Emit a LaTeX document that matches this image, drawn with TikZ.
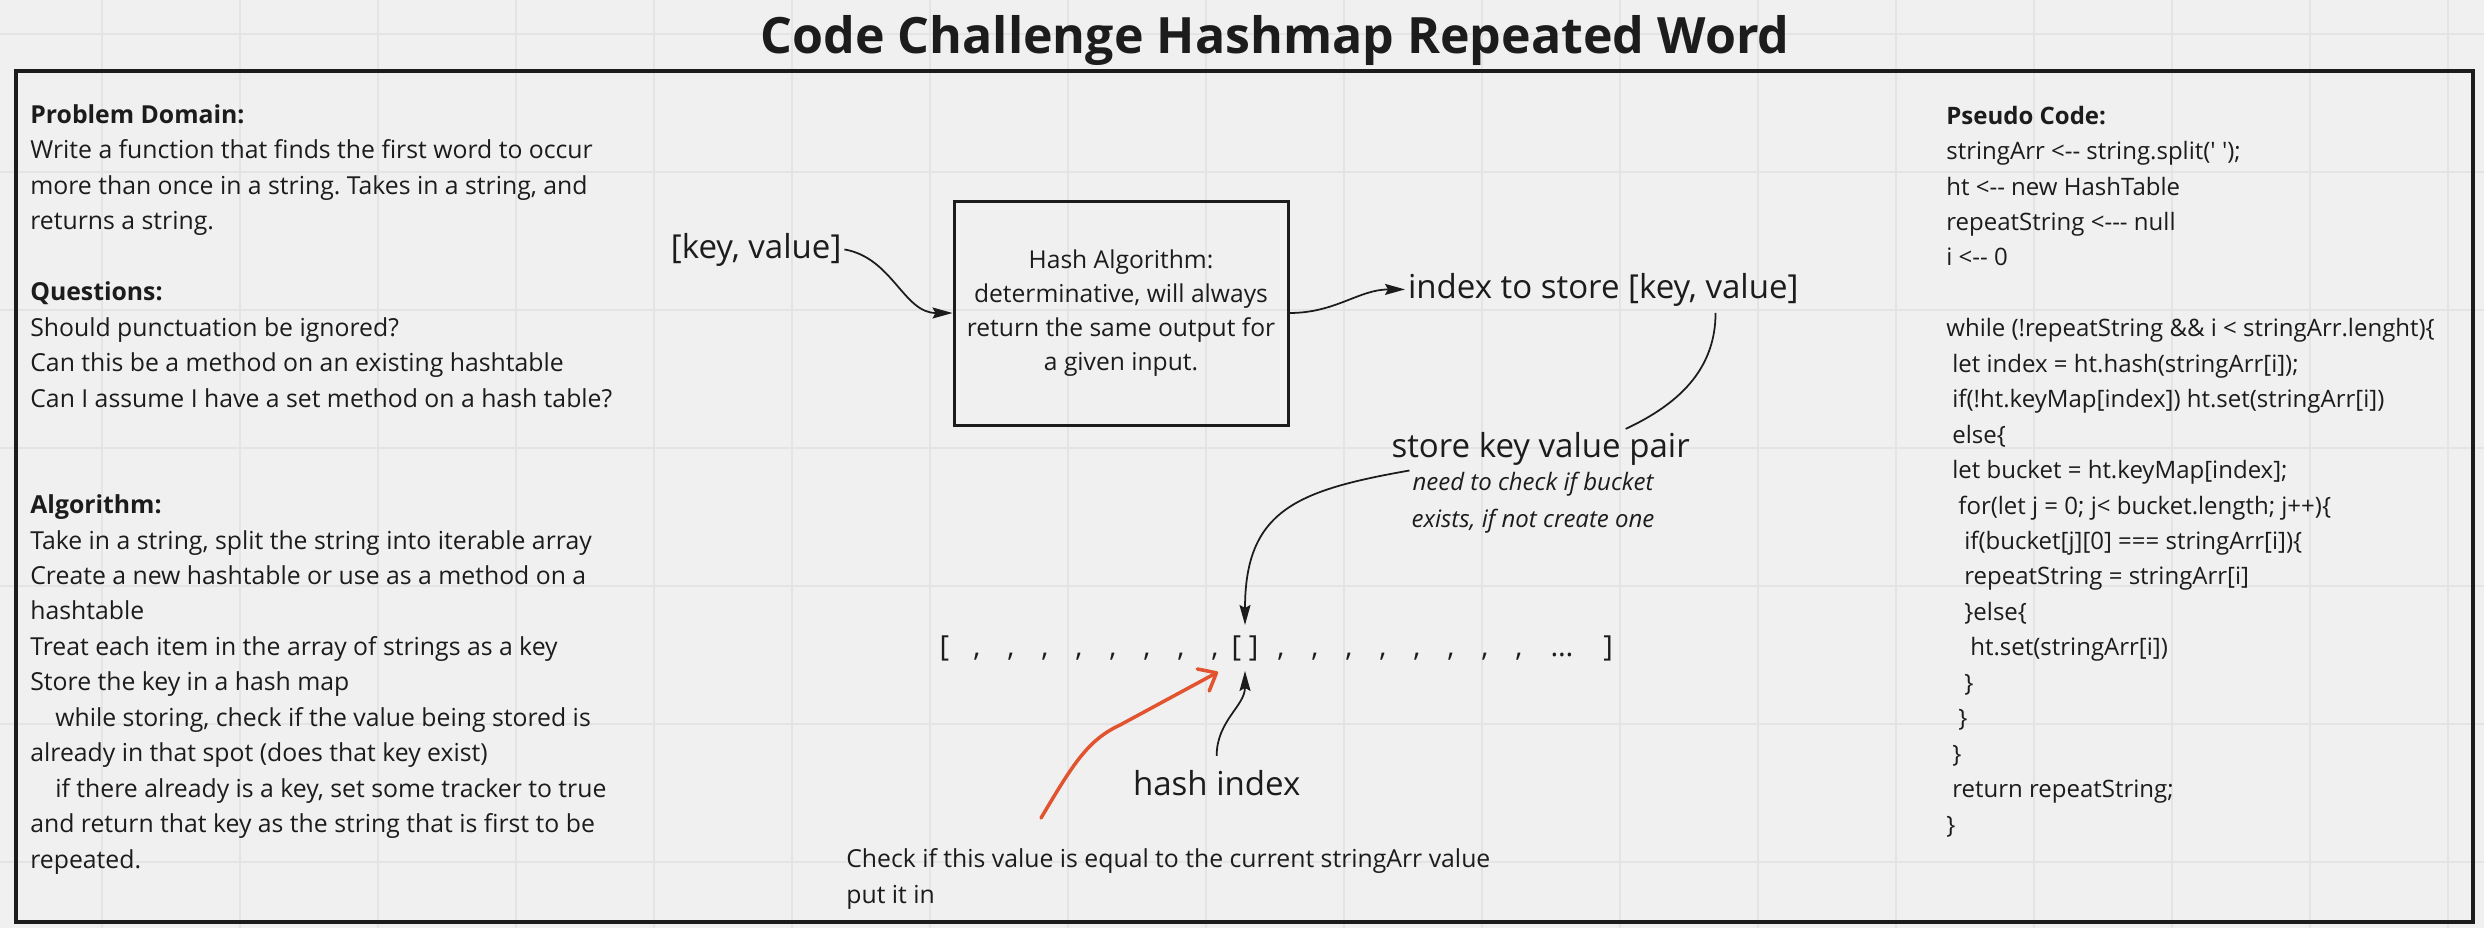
\documentclass[tikz,border=0pt]{standalone}
\usepackage{fontspec}
\setmainfont{Open Sans}
\newfontfamily\codefont{Open Sans}
\usepackage{xcolor}
\usetikzlibrary{arrows.meta,positioning,calc}
\definecolor{boardbg}{HTML}{F0F0F0}
\definecolor{boardgrid}{HTML}{E4E4E4}
\definecolor{boardink}{HTML}{1C1C1C}
\definecolor{markred}{HTML}{E2532F}
\frenchspacing

\begin{document}
\begin{tikzpicture}[
    x=1cm,y=1cm,
    txt/.style    = {anchor=base west, align=left, inner sep=0pt, text=boardink,
                     font=\fontsize{14.1}{20.17}\selectfont},
    big/.style    = {anchor=base west, inner sep=1.5pt, text=boardink,
                     font=\fontsize{18.8}{22}\selectfont},
    cell/.style   = {anchor=base, inner sep=0pt, text=boardink,
                     font=\fontsize{16.5}{20}\selectfont},
    hashbox/.style = {draw=boardink, line width=0.06cm, minimum width=6.68cm,
                     minimum height=4.48cm, align=center, text=boardink,
                     font=\fontsize{14}{19.4}\selectfont},
    lien/.style   = {boardink, line width=0.035cm},
    arr/.style    = {lien, -{Stealth[length=0.4cm,width=0.22cm,inset=0.06cm]}},
    redarr/.style = {markred, line width=0.07cm, line cap=round, line join=round,
                     -{Straight Barb[length=0.3cm,width=0.5cm,round]}},
  ]

  % board
  \fill[boardbg] (0,0) rectangle (49.68,-18.56);
  \useasboundingbox (0,0) rectangle (49.68,-18.56);
  \foreach \gx in {0,...,17}
    \draw[boardgrid,line width=0.04cm] ({2.04+2.76*\gx},0) -- ({2.04+2.76*\gx},-18.56);
  \foreach \gy in {0,...,6}
    \draw[boardgrid,line width=0.04cm] (0,{-0.68-2.76*\gy}) -- (49.68,{-0.68-2.76*\gy});
  \draw[boardink,line width=0.07cm] (0.32,-1.42) rectangle (49.46,-18.44);

  \node[anchor=base, inner sep=0pt, text=boardink,
        font=\fontsize{28.5}{30}\selectfont\bfseries] (title) at (25.5,-1.06)
       {Code Challenge Hashmap Repeated Word};

  % left column (base = last line)
  \node[txt] (probdom) at (0.6,-8.14) {\textbf{Problem Domain:}\\
    Write a function that finds the first word to occur\\
    more than once in a string. Takes in a string, and\\
    returns a string.\\[20.17pt]
    \textbf{Questions:}\\
    Should punctuation be ignored?\\
    Can this be a method on an existing hashtable\\
    Can I assume I have a set method on a hash table?};

  \node[txt] (algo) at (0.6,-17.36) {\textbf{Algorithm:}\\
    Take in a string, split the string into iterable array\\
    Create a new hashtable or use as a method on a\\
    hashtable\\
    Treat each item in the array of strings as a key\\
    Store the key in a hash map\\
    \hspace*{0.5cm}while storing, check if the value being stored is\\
    already in that spot (does that key exist)\\
    \hspace*{0.5cm}if there already is a key, set some tracker to true\\
    and return that key as the string that is first to be\\
    repeated.};

  % right column
  \node[txt,font=\codefont\fontsize{13.66}{20.17}\selectfont] (pseudo) at (38.92,-16.66)
   {\textbf{Pseudo Code:}\\
    stringArr <-- string.split(' ');\\
    ht <-- new HashTable\\
    repeatString <--- null\\
    i <-- 0\\[20.17pt]
    while (!repeatString \&\& i < stringArr.lenght)\{\\
    \hspace*{0.12cm}let index = ht.hash(stringArr[i]);\\
    \hspace*{0.12cm}if(!ht.keyMap[index]) ht.set(stringArr[i])\\
    \hspace*{0.12cm}else\{\\
    \hspace*{0.12cm}let bucket = ht.keyMap[index];\\
    \hspace*{0.24cm}for(let j = 0; j< bucket.length; j++)\{\\
    \hspace*{0.36cm}if(bucket[j][0] === stringArr[i])\{\\
    \hspace*{0.36cm}repeatString = stringArr[i]\\
    \hspace*{0.36cm}\}else\{\\
    \hspace*{0.48cm}ht.set(stringArr[i])\\
    \hspace*{0.36cm}\}\\
    \hspace*{0.24cm}\}\\
    \hspace*{0.12cm}\}\\
    \hspace*{0.12cm}return repeatString;\\
    \}};

  % hashing
  \node[hashbox] (hash) at (22.42,-6.26)
       {Hash Algorithm:\\determinative, will always\\return the same output for\\a given input.};
  \node[big] (kv)    at (13.36,-5.16) {[key, value]};
  \node[big] (idx)   at (28.1,-5.96)  {index to store [key, value]};
  \node[big] (store) at (27.77,-9.14) {store key value pair};
  \node[anchor=base, align=center, inner sep=1pt, text=boardink,
        font=\fontsize{13.66}{20.5}\selectfont\itshape] (note) at (30.66,-10.54)
       {need to check if bucket\\exists, if not create one};
  \node[big] (hidx)  at (22.6,-15.9)  {hash index};

  % array of buckets
  \node[cell] (lb) at (18.89,-13.12) {[};
  \foreach \k in {0,...,7}
    \node[cell] (cl\k) at ({19.54+0.68*\k},-13.12) {,};
  \node[cell,inner ysep=0.2cm] (bucket) at (24.9,-13.12) {[ ]};
  \foreach \k in {0,...,7}
    \node[cell] (cr\k) at ({25.62+0.68*\k},-13.12) {,};
  \node[cell] (dots) at (31.24,-13.12) {\dots};
  \node[cell] (rb)   at (32.16,-13.12) {]};

  \node[txt] (chk) at (16.92,-18.06)
       {Check if this value is equal to the current stringArr value\\put it in};

  \draw[arr] (kv.east) to[out=-10,in=180] (hash.west);
  \draw[arr] (hash.east) to[out=0,in=180] (idx.west);
  \draw[lien] ([xshift=-1.72cm,yshift=-0.08cm]idx.south east)
              to[out=-90,in=25] ([xshift=1.7cm]store.north);
  \draw[arr] (note.north west) to[out=190,in=90,looseness=1.3] (bucket.north);
  \draw[arr] ([yshift=0.22cm]hidx.north) to[out=90,in=-90] (bucket.south);

  \coordinate (chk0) at (20.82,-16.36);
  \coordinate (chk1) at (24.36,-13.44);
  \draw[redarr] (chk0) .. controls (21.45,-15.3) and (21.75,-14.8) .. (22.4,-14.5) -- (chk1);

\end{tikzpicture}
\end{document}
